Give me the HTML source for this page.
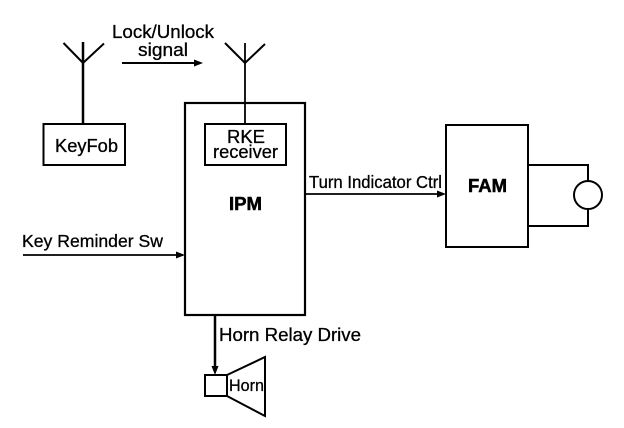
<!DOCTYPE html>
<html>
<head>
<meta charset="utf-8">
<style>
html,body{margin:0;padding:0;background:#fff;}
svg{display:block;}
text{font-family:"Liberation Sans",sans-serif;fill:#000;stroke:#000;stroke-width:.3;}
.b{font-weight:bold;stroke-width:.5;}
</style>
</head>
<body>
<svg width="624" height="428" viewBox="0 0 624 428" xmlns="http://www.w3.org/2000/svg">
<g fill="none" stroke="#000">
  <!-- antennas -->
  <path d="M63.5 43 L83 63 L104 43.500" stroke-width="2"/>
  <path d="M83 42 V124" stroke-width="2.500"/>
  <path d="M225 43 L245 63 L265 44" stroke-width="2"/>
  <path d="M245 43 V124" stroke-width="1.800"/>
  <!-- boxes -->
  <rect x="185" y="103" width="120" height="212" stroke-width="2.200"/>
  <rect x="43.500" y="124" width="81.500" height="41" stroke-width="2"/>
  <rect x="205" y="124" width="81" height="41" stroke-width="2"/>
  <rect x="446" y="125" width="82" height="122" stroke-width="2"/>
  <!-- lamp -->
  <path d="M528 165 H588 V181 M588 209 V226 H528" stroke-width="2"/>
  <circle cx="588" cy="195" r="14" stroke-width="2"/>
  <!-- connectors -->
  <path d="M122 63 H196" stroke-width="2"/>
  <path d="M305 194 H440" stroke-width="1.800"/>
  <path d="M23 255 H179" stroke-width="1.800"/>
  <path d="M215 315 V368" stroke-width="2.500"/>
  <!-- horn -->
  <rect x="205" y="375" width="22" height="21" stroke-width="2"/>
  <path d="M227 375 L265 357 V416 L227 396" stroke-width="2"/>
</g>
<g fill="#000" stroke="none">
  <path d="M203 63 L194 59.500 V66.500 Z"/>
  <path d="M446 194 L437 190.500 V197.500 Z"/>
  <path d="M185 255 L176 251.500 V258.500 Z"/>
  <path d="M215 375 L211.500 366 H218.500 Z"/>
</g>
<text x="112" y="38" font-size="18.500" textLength="102" lengthAdjust="spacingAndGlyphs">Lock/Unlock</text>
<text x="138" y="56" font-size="18" textLength="50" lengthAdjust="spacingAndGlyphs">signal</text>
<text x="55" y="152" font-size="18" textLength="63" lengthAdjust="spacingAndGlyphs">KeyFob</text>
<text x="227" y="143" font-size="18" textLength="38" lengthAdjust="spacingAndGlyphs">RKE</text>
<text x="213" y="158" font-size="18" textLength="65" lengthAdjust="spacingAndGlyphs">receiver</text>
<text class="b" x="229" y="210" font-size="18" textLength="33" lengthAdjust="spacingAndGlyphs">IPM</text>
<text x="309" y="188" font-size="17.500" textLength="133" lengthAdjust="spacingAndGlyphs">Turn Indicator Ctrl</text>
<text class="b" x="468" y="192" font-size="18" textLength="39" lengthAdjust="spacingAndGlyphs">FAM</text>
<text x="22" y="247" font-size="17.500" textLength="141" lengthAdjust="spacingAndGlyphs">Key Reminder Sw</text>
<text x="219" y="341" font-size="18" textLength="142" lengthAdjust="spacingAndGlyphs">Horn Relay Drive</text>
<text x="229" y="391" font-size="17" textLength="35" lengthAdjust="spacingAndGlyphs">Horn</text>
</svg>
</body>
</html>
